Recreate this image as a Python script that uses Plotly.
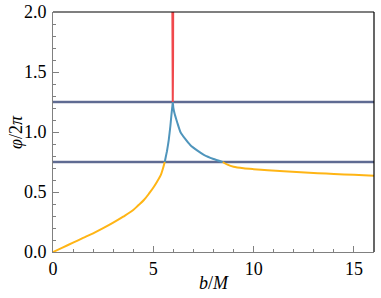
import plotly.graph_objects as go

# data
orange_left_x = [0.0, 0.5, 1.0, 1.5, 2.0, 2.5, 3.0, 3.5, 4.0, 4.25, 4.53, 4.8, 5.03, 5.2, 5.37, 5.47, 5.57]
orange_left_y = [0.0, 0.039, 0.078, 0.117, 0.156, 0.199, 0.245, 0.295, 0.35, 0.389, 0.433, 0.49, 0.544, 0.59, 0.64, 0.69, 0.75]
blue_x = [5.57, 5.63, 5.68, 5.73, 5.77, 5.81, 5.85, 5.89, 5.92, 5.95, 5.97,
          6.0, 6.05, 6.1, 6.2, 6.35, 6.6, 6.85, 7.2, 7.52, 8.0, 8.45]
blue_y = [0.75, 0.80, 0.84, 0.89, 0.935, 0.99, 1.05, 1.12, 1.17, 1.215, 1.25,
          1.2, 1.16, 1.13, 1.075, 1.0, 0.94, 0.89, 0.845, 0.81, 0.775, 0.75]
red_x = [5.95, 5.955, 5.962, 5.97, 5.978, 5.985, 5.99]
red_y = [2.0, 1.6, 1.35, 1.25, 1.35, 1.6, 2.0]
orange_right_x = [8.45, 8.7, 9.0, 9.5, 10.0, 10.7, 11.5, 12.35, 13.2, 14.0, 15.0, 16.0]
orange_right_y = [0.75, 0.728, 0.711, 0.698, 0.69, 0.681, 0.672, 0.664, 0.657, 0.65, 0.643, 0.636]
hlines_y = [0.75, 1.25]

x_ticks = [0, 5, 10, 15]
y_ticks = [0, 0.5, 1.0, 1.5, 2.0]
y_ticktext = ["0.0", "0.5", "1.0", "1.5", "2.0"]

ORANGE = "#FFB515"
BLUE = "#4F95BC"
RED = "#F0484C"
NAVY = "#3A4878"
AX = "#808080"

fig = go.Figure()
for y in hlines_y:
    fig.add_trace(go.Scatter(x=[0, 16], y=[y, y], mode="lines",
                             line=dict(color="rgba(58,72,120,0.25)", width=3.5), hoverinfo="skip"))
    fig.add_trace(go.Scatter(x=[0, 16], y=[y, y], mode="lines",
                             line=dict(color=NAVY, width=1.5)))
fig.add_trace(go.Scatter(x=orange_left_x, y=orange_left_y, mode="lines",
                         line=dict(color=ORANGE, width=2, shape="spline", smoothing=1.0)))
fig.add_trace(go.Scatter(x=orange_right_x, y=orange_right_y, mode="lines",
                         line=dict(color=ORANGE, width=2, shape="spline", smoothing=0.8)))
fig.add_trace(go.Scatter(x=blue_x, y=blue_y, mode="lines",
                         line=dict(color=BLUE, width=2, shape="spline", smoothing=0.4)))
fig.add_trace(go.Scatter(x=red_x, y=red_y, mode="lines",
                         line=dict(color=RED, width=2)))

font = dict(family="Liberation Serif", size=18, color="black")
fig.update_layout(
    width=381, height=298,
    margin=dict(l=53, r=7, t=12, b=46),
    paper_bgcolor="white", plot_bgcolor="white",
    showlegend=False, font=font,
)
fig.update_xaxes(range=[0, 16], tickvals=x_ticks, ticktext=[str(v) for v in x_ticks],
                 ticks="inside", ticklen=6, tickcolor=AX, showgrid=False, zeroline=False,
                 showline=True, linecolor=AX, linewidth=1, automargin=False,
                 minor=dict(dtick=1, ticks="inside", ticklen=3, tickcolor=AX),
                 tickfont=font, ticklabelstandoff=0, ticklabeloverflow="allow")
fig.update_yaxes(range=[0, 2], tickvals=y_ticks, ticktext=y_ticktext,
                 ticks="inside", ticklen=6, tickcolor=AX, showgrid=False, zeroline=False,
                 showline=True, linecolor=AX, linewidth=1, automargin=False,
                 minor=dict(dtick=0.1, ticks="inside", ticklen=3, tickcolor=AX),
                 tickfont=font, ticklabelstandoff=2, ticklabeloverflow="allow")
fig.add_shape(type="line", xref="paper", yref="paper", x0=0, x1=1, y0=1, y1=1,
              line=dict(color="black", width=1.2))
fig.add_shape(type="line", xref="paper", yref="paper", x0=1, x1=1, y0=0, y1=1,
              line=dict(color="black", width=1.2))
fig.add_annotation(text="<i>b</i>/<i>M</i>", xref="paper", yref="paper", x=0.5, y=0,
                   yshift=-31, showarrow=False, font=font, yanchor="middle")
fig.add_annotation(text="<i>φ</i>/2<i>π</i>", xref="paper", yref="paper", x=0, y=0.5,
                   xshift=-37, showarrow=False, font=font, textangle=-90, xanchor="center")

fig.write_html("out.html", config={"displayModeBar": False},
               post_script="document.body.style.margin='0';")
